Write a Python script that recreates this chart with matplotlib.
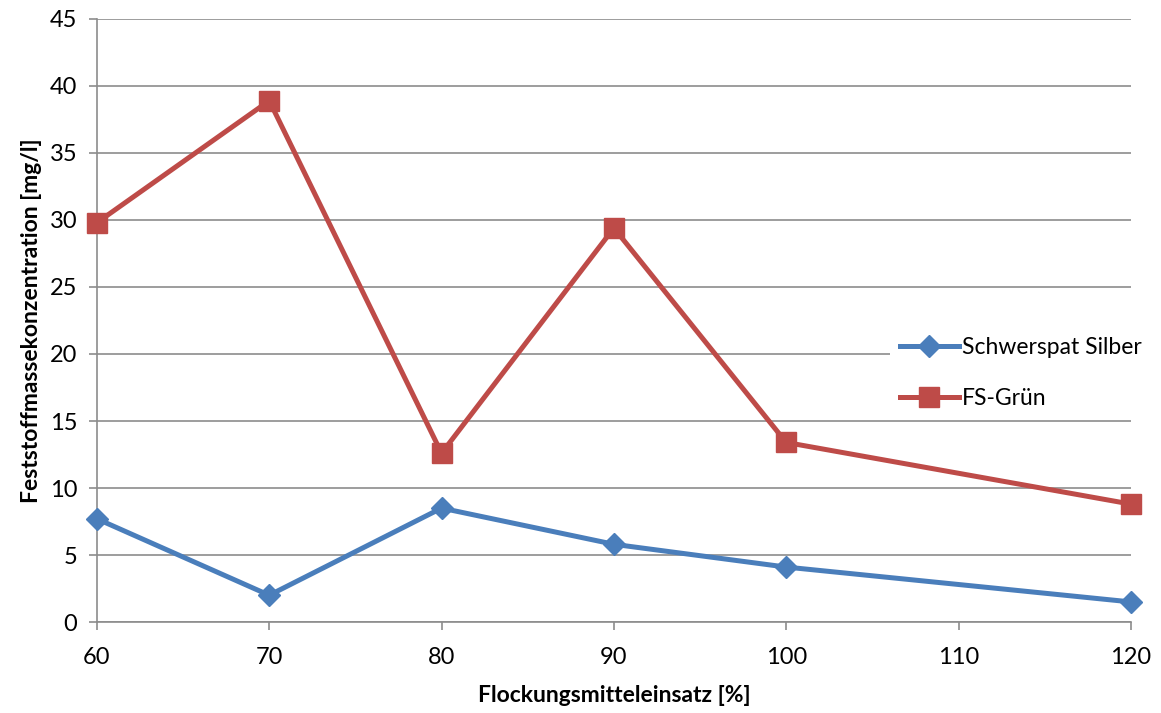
import matplotlib.pyplot as plt
import matplotlib.ticker as ticker

plt.rcParams['font.family'] = ['Lato', 'DejaVu Sans']

# Flockungsmitteleinsatz in %
einsatz = [60, 70, 80, 90, 100, 120]
# Feststoffmassekonzentration in mg/l
schwerspat_silber = [7.7, 2.0, 8.5, 5.8, 4.1, 1.5]
fs_gruen = [29.8, 38.9, 12.6, 29.4, 13.4, 8.8]

blue = '#4A7EBB'
red = '#BE4B48'
gray = '#8C8C8C'

fig = plt.figure(figsize=(11.61, 7.13), dpi=100)
ax = fig.add_axes([0.0835, 0.1276, 0.8905, 0.8458])

ax.plot(einsatz, schwerspat_silber, color=blue, linewidth=3.6, marker='D',
        markersize=11, label='Schwerspat Silber', zorder=3, clip_on=False)
ax.plot(einsatz, fs_gruen, color=red, linewidth=3.6, marker='s',
        markersize=14, label='FS-Grün', zorder=3, clip_on=False)

ax.set_xlim(60, 120)
ax.set_ylim(0, 45)
ax.xaxis.set_major_locator(ticker.MultipleLocator(10))
ax.yaxis.set_major_locator(ticker.MultipleLocator(5))

ax.grid(axis='y', color=gray, linewidth=1.2)
ax.set_axisbelow(True)
for side in ['top', 'right']:
    ax.spines[side].set_visible(False)
for side in ['left', 'bottom']:
    ax.spines[side].set_color(gray)
    ax.spines[side].set_linewidth(1.2)
ax.tick_params(direction='out', length=6, width=1.2, color=gray,
               labelsize=17, labelcolor='black', pad=8)
ax.tick_params(axis='x', pad=12)

ax.set_xlabel('Flockungsmitteleinsatz [%]', fontsize=16.5, fontweight='bold',
              labelpad=12)
ax.set_ylabel('Feststoffmassekonzentration [mg/l]', fontsize=16.5,
              fontweight='bold', labelpad=6)

leg = fig.legend(loc='upper left', bbox_to_anchor=(0.767, 0.54),
                 frameon=True, fontsize=16.5, handlelength=2.6,
                 handletextpad=0.1, labelspacing=1.3, borderpad=0.4,
                 borderaxespad=0)
leg.get_frame().set_edgecolor('none')
leg.get_frame().set_facecolor('white')
leg.get_frame().set_alpha(1)

fig.savefig('out.png', dpi=100)
